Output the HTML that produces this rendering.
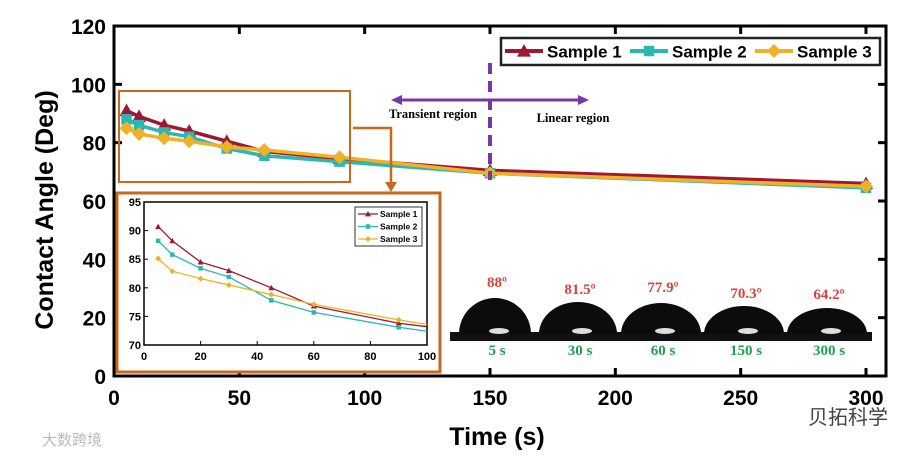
<!DOCTYPE html>
<html><head><meta charset="utf-8"><style>
body{margin:0;background:#fff}
svg{display:block;font-family:"Liberation Sans",Arial,sans-serif}
</style></head><body>
<svg id="c" width="918" height="458" viewBox="0 0 918 458"></svg>
<script>
const times=[5,10,20,30,45,60,90,150,300];
const s1=[91,89,86,84,80.5,77,74.5,70.5,66];
const s2=[88,86,83.5,82,78,75.5,73.5,69.5,64.5];
const s3=[85,83,81.5,80.5,78.5,77.5,75,69.5,65];
const xTicks=[0,50,100,150,200,250,300];
const yTicks=[0,20,40,60,80,100,120];
const inTimes=[5,10,20,30,45,60,90,100];
const in1=[90.7,88.2,84.5,83,80,76.8,73.8,73.2];
const in2=[88.2,85.8,83.4,81.9,77.8,75.7,73.1,72.4];
const in3=[85.1,82.9,81.6,80.5,78.8,77.1,74.4,73.6];
const inXTicks=[0,20,40,60,80,100];
const inYTicks=[70,75,80,85,90,95];
const dropAngles=["88º","81.5º","77.9º","70.3º","64.2º"];
const dropTimes=["5 s","30 s","60 s","150 s","300 s"];
const seriesNames=["Sample 1","Sample 2","Sample 3"];
const colors=["#a0182f","#2bb7b3","#efb128"];

const NS="http://www.w3.org/2000/svg",svg=document.getElementById('c');
function el(t,a,p){const e=document.createElementNS(NS,t);for(const k in a)e.setAttribute(k,a[k]);(p||svg).appendChild(e);return e;}
function txt(s,a,p){const e=el('text',a,p);e.textContent=s;return e;}
const L=114,R=886,T=26,B=376;
const X=v=>L+v*(866-114)/300, Y=v=>B-v*(B-T)/120;

let f=el('rect',{x:L,y:T,width:R-L,height:B-T,fill:'none',stroke:'#000','stroke-width':3});

xTicks.forEach(v=>{
  el('line',{x1:X(v),x2:X(v),y1:B,y2:B-8,stroke:'#000','stroke-width':3});
  el('line',{x1:X(v),x2:X(v),y1:T,y2:T+8,stroke:'#000','stroke-width':3});
  const t=txt(v,{x:X(v),y:B+29,'text-anchor':'middle','font-size':21,'font-weight':'bold'});
  
});
yTicks.forEach(v=>{
  el('line',{x1:L,x2:L+8,y1:Y(v),y2:Y(v),stroke:'#000','stroke-width':3});
  el('line',{x1:R,x2:R-8,y1:Y(v),y2:Y(v),stroke:'#000','stroke-width':3});
  const t=txt(v,{x:L-8,y:Y(v)+8,'text-anchor':'end','font-size':21,'font-weight':'bold'});
  
});
let xt=txt('Time (s)',{x:497,y:445,'text-anchor':'middle','font-size':25,'font-weight':'bold'});

let yt=txt('Contact Angle (Deg)',{x:0,y:0,'text-anchor':'middle','font-size':25,'font-weight':'bold',transform:'translate(53,210) rotate(-90)'});


function marker(shape,x,y,c,s,p){
  if(shape==0) return el('polygon',{points:`${x},${y-s} ${x-s},${y+s*0.8} ${x+s},${y+s*0.8}`,fill:c},p);
  if(shape==1) return el('rect',{x:x-s*0.75,y:y-s*0.75,width:s*1.5,height:s*1.5,fill:c},p);
  return el('polygon',{points:`${x},${y-s} ${x+s},${y} ${x},${y+s} ${x-s},${y}`,fill:c},p);
}
[s1,s2,s3].forEach((d,i)=>{
  const g=el('g',{});
  
  el('polyline',{points:times.map((t,j)=>X(t)+','+Y(d[j])).join(' '),fill:'none',stroke:colors[i],'stroke-width':3.5},g);
  times.forEach((t,j)=>{const m=marker(i,X(t),Y(d[j]),colors[i],7,g);
    });
});

const lg=el('g',{});
el('rect',{x:501,y:38,width:379,height:27,fill:'#fff',stroke:'#222','stroke-width':2.5},lg);
[505,630,755].forEach((lx,i)=>{
  const e=el('g',{},lg);
  el('line',{x1:lx,x2:lx+38,y1:51,y2:51,stroke:colors[i],'stroke-width':4},e);
  marker(i,lx+19,51,colors[i],7,e);
  txt(seriesNames[i],{x:lx+42,y:57.5,'font-size':17,'font-weight':'bold'},e);
});

let zb=el('rect',{x:119,y:91,width:231,height:91,fill:'none',stroke:'#c8671e','stroke-width':2});

el('polyline',{points:'353,128 391,128 391,183',fill:'none',stroke:'#c8671e','stroke-width':2.5});
el('polygon',{points:'385,182 397,182 391,192',fill:'#c8671e'});

let dl=el('line',{x1:X(150),x2:X(150),y1:63,y2:180,stroke:'#7a35a8','stroke-width':4,'stroke-dasharray':'11,7'});

el('line',{x1:400,x2:586,y1:100,y2:100,stroke:'#7a35a8','stroke-width':3});
el('polygon',{points:'391,100 402,95 402,105',fill:'#7a35a8'});
el('polygon',{points:'589,100 578,95 578,105',fill:'#7a35a8'});
let tr=txt('Transient region',{x:433,y:118,'text-anchor':'middle','font-size':12.5,'font-weight':'bold','font-family':'Liberation Serif,serif'});

let lr=txt('Linear region',{x:573,y:122,'text-anchor':'middle','font-size':12.5,'font-weight':'bold','font-family':'Liberation Serif,serif'});


const ig=el('g',{});
el('rect',{x:117,y:193,width:323,height:179,fill:'#fff',stroke:'#c8671e','stroke-width':3},ig);
const iL=144,iR=427,iT=202,iB=345;
const IX=v=>iL+v*(iR-iL)/100, IY=v=>iB-(v-70)*(iB-iT)/25;
el('rect',{x:iL,y:iT,width:iR-iL,height:iB-iT,fill:'#fff',stroke:'#000','stroke-width':1.5},ig);
inXTicks.forEach(v=>{el('line',{x1:IX(v),x2:IX(v),y1:iB,y2:iB-4,stroke:'#000'},ig);
  txt(v,{x:IX(v),y:iB+15,'text-anchor':'middle','font-size':11,'font-weight':'bold'},ig);});
inYTicks.forEach(v=>{el('line',{x1:iL,x2:iL+4,y1:IY(v),y2:IY(v),stroke:'#000'},ig);
  txt(v,{x:iL-3,y:IY(v)+4,'text-anchor':'end','font-size':11,'font-weight':'bold'},ig);});
[in1,in2,in3].forEach((d,i)=>{
  const g=el('g',{},ig);
  el('polyline',{points:inTimes.map((t,j)=>IX(t)+','+IY(d[j])).join(' '),fill:'none',stroke:colors[i],'stroke-width':1.3},g);
  inTimes.slice(0,7).forEach((t,j)=>marker(i,IX(t),IY(d[j]),colors[i],3,g));
});
el('rect',{x:355,y:207,width:67,height:39,fill:'#fff',stroke:'#333','stroke-width':1},ig);
seriesNames.forEach((n,i)=>{const y=214+i*12.5;
  el('line',{x1:358,x2:378,y1:y,y2:y,stroke:colors[i],'stroke-width':1.3},ig);
  marker(i,368,y,colors[i],3,ig);
  txt(n,{x:380,y:y+3,'font-size':8.5,'font-weight':'bold'},ig);});

dropAngles.forEach((a,i)=>{
  const cx=495+i*83;
  const g=el('g',{});
  const h=[36,32,31,28,26][i],w=[36,39,40,40,40][i];
  el('rect',{x:cx-45,y:332,width:90,height:9,fill:'#111'},g);
  el('path',{d:`M${cx-w},334 A${w},${h} 0 0 1 ${cx+w},334 Z`,fill:'#0c0c0c'},g);
  el('ellipse',{cx:cx+4,cy:331,rx:10,ry:3,fill:'#ddd'},g);
  txt(a,{x:cx+2,y:[287,294,292,298,299][i],'text-anchor':'middle','font-size':15,'font-weight':'bold',fill:'#e04038','font-family':'Liberation Serif,serif'},g);
  txt(dropTimes[i],{x:cx+2,y:355,'text-anchor':'middle','font-size':15,'font-weight':'bold',fill:'#1fa050','font-family':'Liberation Serif,serif'},g);
});

let w1=txt('大数跨境',{x:42,y:445,'font-size':15,fill:'#bbb','font-family':'Liberation Sans,Noto Sans CJK SC,sans-serif'});

let w2=txt('贝拓科学',{x:808,y:424,'font-size':20,fill:'#444','font-family':'Liberation Sans,Noto Sans CJK SC,sans-serif'});

</script>
</body></html>
